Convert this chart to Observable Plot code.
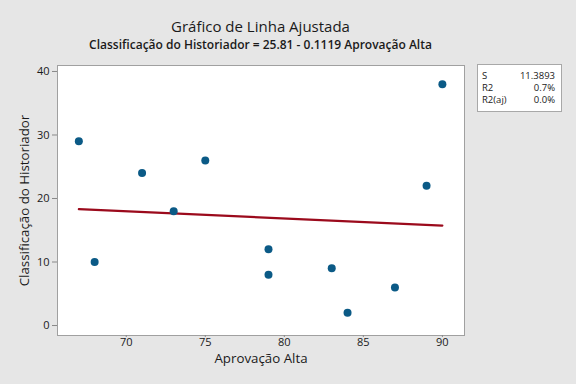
<!DOCTYPE html>
<html>
<head>
<meta charset="utf-8">
<script src="https://cdn.jsdelivr.net/npm/d3@7"></script>
<script src="https://cdn.jsdelivr.net/npm/@observablehq/plot@0.6"></script>
<style>
  html, body { margin: 0; padding: 0; background: #e6e6e6; }
  #wrap { position: relative; width: 576px; height: 384px; overflow: hidden; background: #e6e6e6; font-family: "Open Sans", "Noto Sans", sans-serif; color: #1a1a1a; }
  #title { position: absolute; left: 0; width: 521px; top: 16px; text-align: center; font-size: 15px; line-height: 20px; }
  #subtitle { position: absolute; left: 0; width: 521px; top: 37px; text-align: center; font-size: 12px; line-height: 16px; font-weight: 600; }
  #stats { position: absolute; left: 477px; top: 64px; width: 85px; height: 48px; background: #fff; border: 1px solid #a8a8a8; font-size: 9.5px; line-height: 12px; padding-top: 5px; box-sizing: border-box; }
  #stats .row { display: flex; justify-content: space-between; padding: 0 6px 0 4px; height: 12px; }
  #plot { position: absolute; left: 0; top: 0; }
</style>
</head>
<body>
<div id="wrap">
  <div id="plot"></div>
  <div id="title">Gráfico de Linha Ajustada</div>
  <div id="subtitle">Classificação do Historiador = 25.81 - 0.1119 Aprovação Alta</div>
  <div id="stats"></div>
</div>
<script>
const aprovacao = [67, 68, 71, 73, 75, 79, 79, 83, 84, 87, 89, 90];
const classificacao = [29, 10, 24, 18, 26, 12, 8, 9, 2, 6, 22, 38];
const xTicks = [70, 75, 80, 85, 90];
const yTicks = [0, 10, 20, 30, 40];
const statLabels = ["S", "R2", "R2(aj)"];
const statValues = ["11.3893", "0.7%", "0.0%"];

const data = aprovacao.map((x, i) => ({x, y: classificacao[i]}));

const stats = document.getElementById("stats");
statLabels.forEach((l, i) => {
  const r = document.createElement("div");
  r.className = "row";
  r.innerHTML = `<span>${l}</span><span>${statValues[i]}</span>`;
  stats.appendChild(r);
});

const chart = Plot.plot({
  width: 576,
  height: 384,
  marginLeft: 57,
  marginRight: 112,
  marginTop: 65,
  marginBottom: 49,
  style: {background: "transparent", fontFamily: "'Open Sans', 'Noto Sans', sans-serif", fontSize: "11px", color: "#1a1a1a"},
  x: {domain: [65.65, 91.4], label: null},
  y: {domain: [-1.57, 40.94], label: null},
  marks: [
    Plot.frame({fill: "white", stroke: "#a0a0a0"}),
    Plot.axisX({ticks: xTicks, tickSize: 2, tickPadding: 1, stroke: "#888", label: null}),
    Plot.axisY({ticks: yTicks, tickSize: 5, tickPadding: 3, stroke: "#888", label: null}),
    Plot.linearRegressionY(data, {x: "x", y: "y", ci: 0, stroke: "#9b0a1c", strokeWidth: 2.2}),
    Plot.dot(data, {x: "x", y: "y", r: 4, fill: "#0b5a86", stroke: "none"}),
    Plot.text(["Aprovação Alta"], {frameAnchor: "bottom", lineAnchor: "middle", dy: 23, fontSize: 13.3, fill: "#1a1a1a"}),
    Plot.text(["Classificação do Historiador"], {frameAnchor: "left", textAnchor: "middle", lineAnchor: "middle", dx: -33, rotate: -90, fontSize: 13.3, fill: "#1a1a1a"})
  ]
});
document.getElementById("plot").appendChild(chart);
</script>
</body>
</html>
